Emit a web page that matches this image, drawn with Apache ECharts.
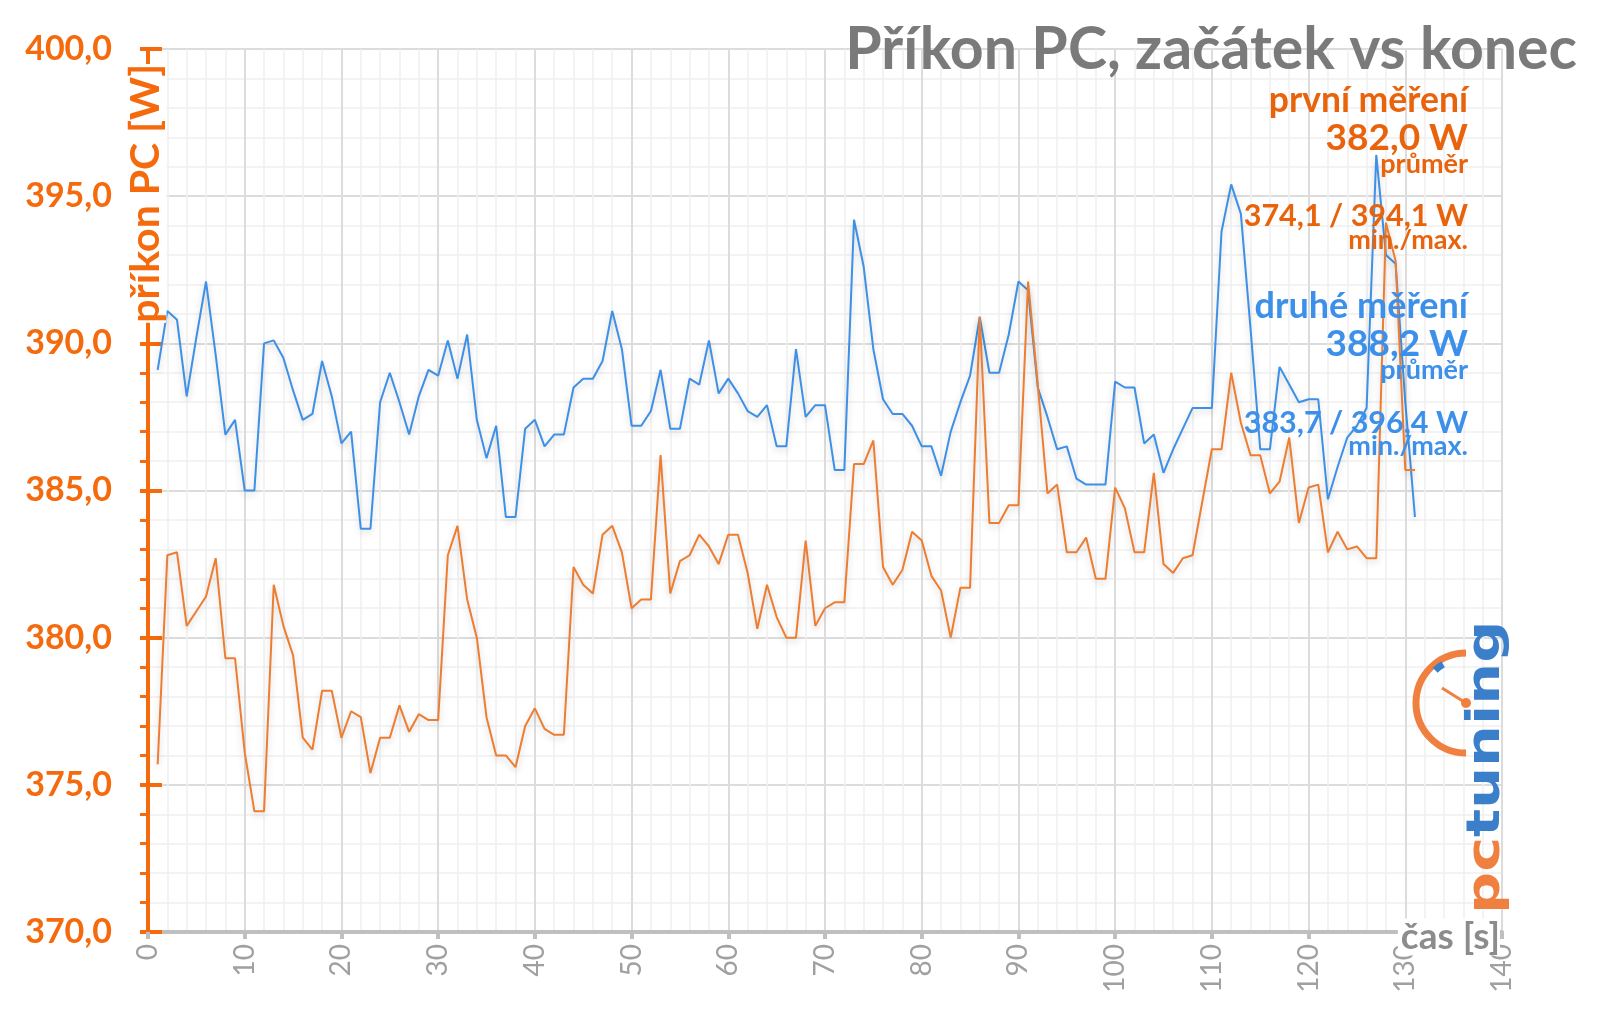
<!DOCTYPE html>
<html>
<head>
<meta charset="utf-8">
<script src="https://cdn.jsdelivr.net/npm/echarts@6/dist/echarts.min.js"></script>
<style>
html,body{margin:0;padding:0;background:#fff;}
#c{width:1600px;height:1017px;}
</style>
</head>
<body>
<div id="c"></div>
<script>
const seconds = [1,2,3,4,5,6,7,8,9,10,11,12,13,14,15,16,17,18,19,20,21,22,23,24,25,26,27,28,29,30,
31,32,33,34,35,36,37,38,39,40,41,42,43,44,45,46,47,48,49,50,51,52,53,54,55,56,57,58,59,60,
61,62,63,64,65,66,67,68,69,70,71,72,73,74,75,76,77,78,79,80,81,82,83,84,85,86,87,88,89,90,
91,92,93,94,95,96,97,98,99,100,101,102,103,104,105,106,107,108,109,110,111,112,113,114,115,116,117,118,119,120,
121,122,123,124,125,126,127,128,129,130,131];

const prvniMereni = [375.7,382.8,382.9,380.4,380.9,381.4,382.7,379.3,379.3,376.1,
374.1,374.1,381.8,380.4,379.4,376.6,376.2,378.2,378.2,376.6,
377.5,377.3,375.4,376.6,376.6,377.7,376.8,377.4,377.2,377.2,
382.8,383.8,381.3,380.0,377.3,376.0,376.0,375.6,377.0,377.6,
376.9,376.7,376.7,382.4,381.8,381.5,383.5,383.8,382.9,381.0,
381.3,381.3,386.2,381.5,382.6,382.8,383.5,383.1,382.5,383.5,
383.5,382.2,380.3,381.8,380.7,380.0,380.0,383.3,380.4,381.0,
381.2,381.2,385.9,385.9,386.7,382.4,381.8,382.3,383.6,383.3,
382.1,381.6,380.0,381.7,381.7,390.9,383.9,383.9,384.5,384.5,
392.1,388.6,384.9,385.2,382.9,382.9,383.4,382.0,382.0,385.1,
384.4,382.9,382.9,385.6,382.5,382.2,382.7,382.8,384.6,386.4,
386.4,389.0,387.3,386.2,386.2,384.9,385.3,386.8,383.9,385.1,
385.2,382.9,383.6,383.0,383.1,382.7,382.7,394.1,392.8,385.7,
385.7];

const druheMereni = [389.1,391.1,390.8,388.2,390.2,392.1,389.6,386.9,387.4,385.0,
385.0,390.0,390.1,389.5,388.4,387.4,387.6,389.4,388.2,386.6,
387.0,383.7,383.7,388.0,389.0,388.0,386.9,388.2,389.1,388.9,
390.1,388.8,390.3,387.4,386.1,387.2,384.1,384.1,387.1,387.4,
386.5,386.9,386.9,388.5,388.8,388.8,389.4,391.1,389.8,387.2,
387.2,387.7,389.1,387.1,387.1,388.8,388.6,390.1,388.3,388.8,
388.3,387.7,387.5,387.9,386.5,386.5,389.8,387.5,387.9,387.9,
385.7,385.7,394.2,392.6,389.8,388.1,387.6,387.6,387.2,386.5,
386.5,385.5,387.0,388.0,388.9,390.9,389.0,389.0,390.3,392.1,
391.8,388.5,387.5,386.4,386.5,385.4,385.2,385.2,385.2,388.7,
388.5,388.5,386.6,386.9,385.6,386.4,387.1,387.8,387.8,387.8,
393.8,395.4,394.4,390.5,386.4,386.4,389.2,388.6,388.0,388.1,
388.1,384.7,385.8,386.8,387.2,387.8,396.4,393.0,392.7,388.0,
384.1];

const titleText = 'Příkon PC, začátek vs konec';
const yAxisName = 'příkon PC [W]';
const xAxisName = 'čas [s]';
const prvniLabels = ['první měření', '382,0 W', 'průměr', '374,1 / 394,1 W', 'min./max.'];
const druheLabels = ['druhé měření', '388,2 W', 'průměr', '383,7 / 396,4 W', 'min./max.'];
const logoParts = ['pc', 'tuning'];

const ORANGE_AXIS = '#f46a0c';
const ORANGE_TEXT = '#e8630c';
const ORANGE_LINE = '#ed7d31';
const BLUE_LINE = '#3d90e6';
const BLUE_TEXT = '#3c90ea';
const LOGO_ORANGE = '#f08040';
const LOGO_BLUE = '#3b7fcb';
const FONT = 'Lato';

const chart = echarts.init(document.getElementById('c'), null, {renderer: 'canvas'});

function legendText(txt, y, size, color) {
  return {
    type: 'text', x: 1468, y: y, z: 100,
    style: { text: txt, fill: color, font: 'bold ' + size + 'px ' + FONT, align: 'right', verticalAlign: 'middle' }
  };
}

const graphics = [
  legendText(prvniLabels[0], 101, 35.5, ORANGE_TEXT),
  legendText(prvniLabels[1], 138, 37, ORANGE_TEXT),
  legendText(prvniLabels[2], 164, 27, ORANGE_TEXT),
  legendText(prvniLabels[3], 216, 30.5, ORANGE_TEXT),
  legendText(prvniLabels[4], 240, 27, ORANGE_TEXT),
  legendText(druheLabels[0], 306, 36, BLUE_TEXT),
  legendText(druheLabels[1], 344, 37, BLUE_TEXT),
  legendText(druheLabels[2], 370, 27, BLUE_TEXT),
  legendText(druheLabels[3], 423, 30.5, BLUE_TEXT),
  legendText(druheLabels[4], 446, 27, BLUE_TEXT),
  // y axis name
  {
    type: 'text', x: 146, y: 64, rotation: Math.PI / 2, z: 100,
    style: { text: yAxisName, fill: ORANGE_AXIS, font: 'bold 41px ' + FONT,
      align: 'right', verticalAlign: 'middle', backgroundColor: '#ffffff' }
  },
  // x axis name
  {
    type: 'text', x: 1500, y: 937, z: 100,
    style: { text: xAxisName, fill: '#8c8c8c', font: 'bold 37px ' + FONT,
      align: 'right', verticalAlign: 'middle', backgroundColor: '#ffffff', padding: [0, 0, 0, 3] }
  },
  // logo
  {
    type: 'text', x: 1487, y: 914, rotation: Math.PI / 2, scaleX: 1.28, scaleY: 1, z: 100,
    style: {
      text: '{a|' + logoParts[0] + '}{b|' + logoParts[1] + '}', align: 'left', verticalAlign: 'middle',
      rich: {
        a: { fill: LOGO_ORANGE, font: 'bold 46px "DejaVu Sans"' },
        b: { fill: LOGO_BLUE, font: 'bold 46px "DejaVu Sans"' }
      }
    }
  },
  {
    type: 'arc', z: 100,
    shape: { cx: 1466, cy: 703, r: 50, startAngle: Math.PI / 2, endAngle: Math.PI * 1.5, clockwise: true },
    style: { stroke: LOGO_ORANGE, lineWidth: 7, fill: null }
  },
  {
    type: 'arc', z: 101,
    shape: { cx: 1466, cy: 703, r: 45, startAngle: -Math.PI * 0.74, endAngle: -Math.PI * 0.67, clockwise: true },
    style: { stroke: LOGO_BLUE, lineWidth: 7, fill: null }
  },
  {
    type: 'line', z: 101,
    shape: { x1: 1442, y1: 688, x2: 1466, y2: 703 },
    style: { stroke: LOGO_ORANGE, lineWidth: 3 }
  },
  {
    type: 'circle', z: 101,
    shape: { cx: 1466, cy: 703, r: 5 },
    style: { fill: LOGO_ORANGE }
  }
];

const option = {
  backgroundColor: '#ffffff',
  animation: false,
  title: {
    text: titleText,
    right: 18, top: 15,
    textStyle: { color: '#7a7a7a', fontFamily: FONT, fontWeight: 'bold', fontSize: 59 }
  },
  grid: { left: 148, right: 98, top: 49, bottom: 85, containLabel: false, outerBoundsMode: 'none' },
  xAxis: {
    type: 'value', min: 0, max: 140, interval: 10,
    axisLine: { show: true, lineStyle: { color: '#bfbfbf', width: 4 } },
    axisTick: { show: true, length: 7, lineStyle: { color: '#bfbfbf', width: 4 } },
    axisLabel: { rotate: 90, margin: 12, color: '#a0a0a0', fontFamily: FONT, fontSize: 28 },
    splitLine: { show: true, lineStyle: { color: '#dcdcdc', width: 2 } },
    minorTick: { show: false, splitNumber: 5 },
    minorSplitLine: { show: true, lineStyle: { color: '#efefef', width: 1.5 } }
  },
  yAxis: [{
    type: 'value', min: 370, max: 400, interval: 5,
    axisLine: { show: true, lineStyle: { color: ORANGE_AXIS, width: 4 } },
    axisTick: { show: true, length: 8, lineStyle: { color: ORANGE_AXIS, width: 4 } },
    minorTick: { show: true, splitNumber: 5, length: 8, lineStyle: { color: ORANGE_AXIS, width: 3 } },
    axisLabel: { margin: 36, color: ORANGE_AXIS, fontFamily: FONT, fontWeight: 'bold', fontSize: 34,
      formatter: function (v) { return v.toFixed(1).replace('.', ','); } },
    splitLine: { show: true, lineStyle: { color: '#dcdcdc', width: 2 } },
    minorSplitLine: { show: true, lineStyle: { color: '#efefef', width: 1.5 } }
  }, {
    type: 'value', min: 370, max: 400, interval: 5, position: 'left',
    axisLine: { show: false },
    axisTick: { show: true, inside: true, length: 14, lineStyle: { color: ORANGE_AXIS, width: 4 } },
    axisLabel: { show: false },
    splitLine: { show: false }
  }],
  series: [{
    name: 'druhé měření', type: 'line', yAxisIndex: 0,
    data: seconds.map(function (s, i) { return [s, druheMereni[i]]; }),
    showSymbol: false, symbol: 'none',
    lineStyle: { color: BLUE_LINE, width: 2, shadowColor: 'rgba(0,0,0,0.2)', shadowBlur: 7, shadowOffsetY: 3 },
    z: 3
  }, {
    name: 'první měření', type: 'line', yAxisIndex: 0,
    data: seconds.map(function (s, i) { return [s, prvniMereni[i]]; }),
    showSymbol: false, symbol: 'none',
    lineStyle: { color: ORANGE_LINE, width: 2, shadowColor: 'rgba(0,0,0,0.2)', shadowBlur: 7, shadowOffsetY: 3 },
    z: 4
  }],
  graphic: graphics
};
chart.setOption(option);
</script>
</body>
</html>
